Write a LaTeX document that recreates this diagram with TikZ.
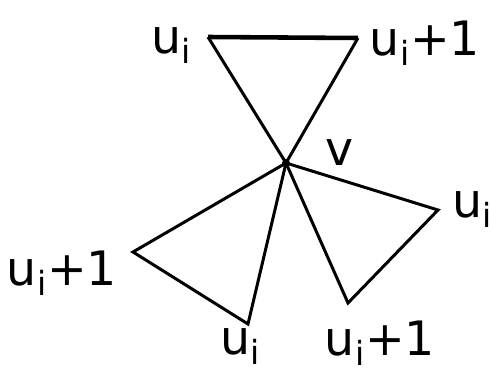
\documentclass[tikz,border=0pt]{standalone}
\usepackage{fontspec}
\setmainfont{DejaVu Sans}
\usetikzlibrary{positioning}

\begin{document}
\begin{tikzpicture}[x=0.02cm,y=-0.02cm,
    edge/.style={line width=1.7pt},
    rim/.style={line width=2.6pt},
    lab/.style={font=\fontsize{27}{30}\selectfont, inner sep=0pt, anchor=base}
  ]
  \useasboundingbox (0,0) rectangle (491,372);

  % centre vertex
  \node[circle,fill,inner sep=1.6pt] (v) at (286,163) {};
  \node[lab] (vlab) at (340,165) {v};

  % outer vertices
  \coordinate (a1) at (208,37);
  \coordinate (b1) at (358,38);
  \coordinate (a2) at (438,210);
  \coordinate (b2) at (348,303);
  \coordinate (a3) at (248,324);
  \coordinate (b3) at (133,252);

  % labels
  \node[lab] (la1) at (172,53) {u\textsubscript{i}};
  \node[lab] (lb1) at (425,55) {u\textsubscript{i}+1};
  \node[lab,anchor=base west] (la2) at (452,217) {u\textsubscript{i}};
  \node[lab] (lb2) at (380,355) {u\textsubscript{i}+1};
  \node[lab] (la3) at (241,354) {u\textsubscript{i}};
  \node[lab] (lb3) at (62,285) {u\textsubscript{i}+1};

  % triangles
  \draw[edge] (v.center) -- (a1);
  \draw[edge] (v.center) -- (b1);
  \draw[rim] (a1) -- (b1);
  \draw[edge] (v.center) -- (a2) -- (b2) -- (v.center);
  \draw[edge] (v.center) -- (a3) -- (b3) -- (v.center);
\end{tikzpicture}
\end{document}
